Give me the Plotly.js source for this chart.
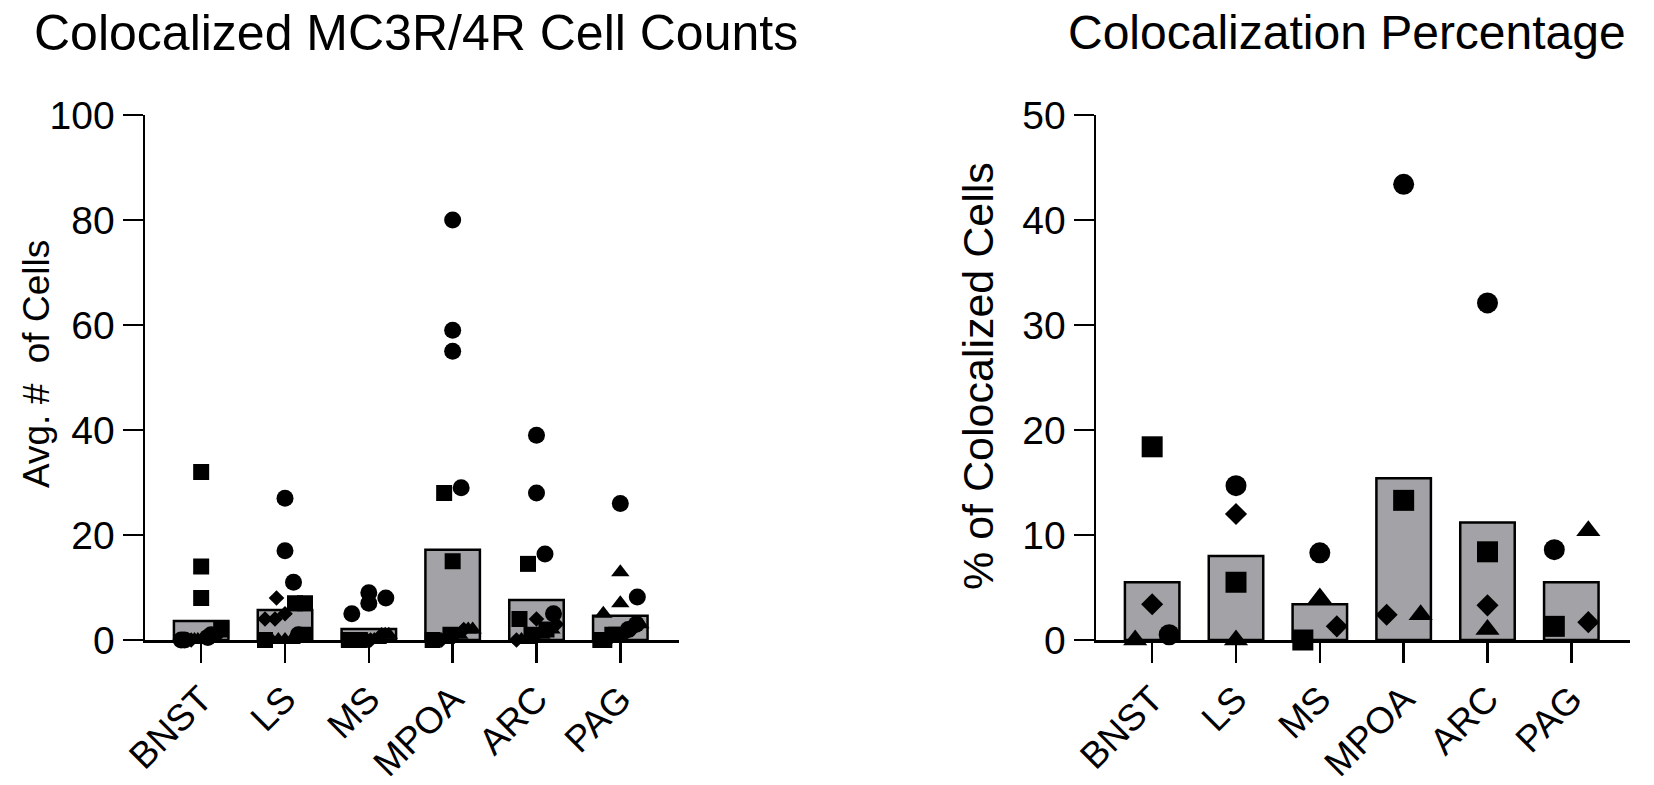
<!DOCTYPE html>
<html>
<head>
<meta charset="utf-8">
<script src="https://cdn.plot.ly/plotly-3.0.1.min.js"></script>
<style>
  html, body { margin: 0; padding: 0; background: #ffffff; }
  #chart { width: 1654px; height: 785px; }
</style>
</head>
<body>
<div id="chart"></div>
<script>
/* Colocalized MC3R/4R cells: counts (left) and percentage (right) per region.
 * Bars are group means, symbols are animals (circle / square / diamond / triangle). */

const regions = ['BNST', 'LS', 'MS', 'MPOA', 'ARC', 'PAG'];

// Left panel: avg # of colocalized cells, 4 sections per animal
const countMeans = [3.6, 5.7, 2.1, 17.2, 7.6, 4.6];
const countCircle   = [[1, 0.5, 0, 0], [27, 17, 11, 1], [9, 8, 7, 5], [80, 59, 55, 29], [39, 28, 16.4, 5], [26, 8.2, 3, 2]];
const countSquare   = [[32, 14, 8, 2], [7, 7, 1, 0], [0, 0, 0, 0], [28, 15, 1, 0], [14.5, 4, 2, 1], [1, 1, 0, 0]];
const countDiamond  = [[1, 1, 0, 0], [8, 5, 4, 4], [1, 0, 0, 0], [2, 1, 0, 0], [4, 3, 1, 0], [2, 1, 1, 0]];
const countTriangle = [[0, 0, 0, 0], [0, 0, 0, 0], [1, 1, 0, 0], [2, 2, 1, 0], [2, 1, 0, 0], [12.9, 7, 5, 3]];

// Right panel: % of colocalized cells, one value per animal
const pctMeans    = [5.5, 8.0, 3.4, 15.4, 11.2, 5.5];
const pctCircle   = [0.5, 14.7, 8.3, 43.4, 32.1, 8.6];
const pctSquare   = [18.4, 5.5, 0, 13.3, 8.4, 1.3];
const pctDiamond  = [3.4, 12.0, 1.3, 2.4, 3.3, 1.7];
const pctTriangle = [0, 0, 4.0, 2.4, 1.0, 10.4];

/* ── Geometry (px) ─────────────────────────────────────────────────────────── */

const W = 1654, H = 785;
const PLOT_TOP = 115, PLOT_BOTTOM = 640;
const LEFT_X0 = 145, RIGHT_X0 = 1096, PLOT_W = 534;
const X_RANGE = [-0.67, 5.70];
const BAR_WIDTH = 0.65;
const FONT = "'Liberation Sans', Arial, sans-serif";

const spacingPx = PLOT_W / (X_RANGE[1] - X_RANGE[0]);

/**
 * GraphPad-like horizontal spreading: points whose markers overlap vertically
 * are put in one row and centred on the column.
 */
function rowOffsets(points, pxPerUnit, markerPx, gapPx, maxSpreadPx) {
  const order = points.map((p, i) => i).sort((a, b) => points[a].v - points[b].v || a - b);
  const offsets = new Array(points.length).fill(0);
  let row = [];
  const flush = () => {
    const n = row.length;
    if (!n) return;
    let d = gapPx;
    if (n > 1 && (n - 1) * d > maxSpreadPx) d = maxSpreadPx / (n - 1);
    row.forEach((idx, k) => { offsets[idx] = (k - (n - 1) / 2) * d / spacingPx; });
    row = [];
  };
  order.forEach(idx => {
    if (row.length && (points[idx].v - points[row[0]].v) * pxPerUnit >= markerPx) flush();
    row.push(idx);
  });
  flush();
  return offsets;
}

function panelTraces(xa, ya, means, groups, yMax, markerPx, gapPx, maxSpreadPx) {
  const pxPerUnit = (PLOT_BOTTOM - PLOT_TOP) / yMax;
  const traces = [{
    type: 'bar',
    x: regions.map((r, i) => i),
    y: means,
    width: BAR_WIDTH,
    marker: { color: '#a3a3a7', line: { color: '#000000', width: 2.5 } },
    xaxis: xa, yaxis: ya,
    hoverinfo: 'skip',
  }];

  const xs = groups.map(() => []);
  const ys = groups.map(() => []);
  regions.forEach((r, i) => {
    const pts = [];
    groups.forEach((g, gi) => {
      [].concat(g.vals[i]).forEach(v => pts.push({ g: gi, v: v }));
    });
    const off = rowOffsets(pts, pxPerUnit, markerPx, gapPx, maxSpreadPx);
    pts.forEach((p, k) => { xs[p.g].push(i + off[k]); ys[p.g].push(p.v); });
  });

  groups.forEach((g, gi) => {
    traces.push({
      type: 'scatter',
      mode: 'markers',
      x: xs[gi],
      y: ys[gi],
      marker: { symbol: g.symbol, size: g.size, color: '#000000', line: { width: 0 } },
      cliponaxis: false,
      xaxis: xa, yaxis: ya,
      hoverinfo: 'y',
    });
  });
  return traces;
}

const traces = []
  .concat(panelTraces('x', 'y', countMeans, [
    { symbol: 'circle', size: 17, vals: countCircle },
    { symbol: 'square', size: 16, vals: countSquare },
    { symbol: 'diamond', size: 12, vals: countDiamond },
    { symbol: 'triangle-up', size: 16, vals: countTriangle },
  ], 100, 17, 17, 40))
  .concat(panelTraces('x2', 'y2', pctMeans, [
    { symbol: 'circle', size: 21, vals: pctCircle },
    { symbol: 'square', size: 21, vals: pctSquare },
    { symbol: 'diamond', size: 17, vals: pctDiamond },
    { symbol: 'triangle-up', size: 21, vals: pctTriangle },
  ], 50, 21, 34, 40));

/* ── Layout ────────────────────────────────────────────────────────────────── */

const yDomain = [(H - PLOT_BOTTOM) / H, (H - PLOT_TOP) / H];

function xAxis(x0, anchor) {
  return {
    domain: [x0 / W, (x0 + PLOT_W) / W],
    range: X_RANGE,
    tickvals: regions.map((r, i) => i),
    ticktext: regions,
    tickangle: -45,
    ticks: 'outside', ticklen: 20, tickwidth: 2.5, tickcolor: '#000000',
    showline: true, linewidth: 2.5, linecolor: '#000000',
    showgrid: false, zeroline: false, fixedrange: true,
    tickfont: { family: FONT, size: 37, color: '#000000' },
    anchor: anchor,
  };
}

function yAxis(max, dtick, anchor) {
  return {
    domain: yDomain,
    range: [0, max],
    tick0: 0, dtick: dtick,
    ticks: 'outside', ticklen: 20, tickwidth: 2.5, tickcolor: '#000000',
    showline: true, linewidth: 2.5, linecolor: '#000000',
    showgrid: false, zeroline: false, fixedrange: true,
    tickfont: { family: FONT, size: 39, color: '#000000' },
    anchor: anchor,
  };
}

const layout = {
  width: W, height: H,
  margin: { l: 0, r: 0, t: 0, b: 0 },
  paper_bgcolor: '#ffffff', plot_bgcolor: '#ffffff',
  showlegend: false,
  bargap: 0,
  xaxis: xAxis(LEFT_X0, 'y'),
  yaxis: yAxis(100, 20, 'x'),
  xaxis2: xAxis(RIGHT_X0, 'y2'),
  yaxis2: yAxis(50, 10, 'x2'),
  annotations: [
    { text: 'Colocalized MC3R/4R Cell Counts', xref: 'paper', yref: 'paper',
      x: 32 / W, y: (H - 33) / H, xanchor: 'left', yanchor: 'middle', showarrow: false,
      font: { family: FONT, size: 50, color: '#000000' } },
    { text: 'Colocalization Percentage', xref: 'paper', yref: 'paper',
      x: 1066 / W, y: (H - 33) / H, xanchor: 'left', yanchor: 'middle', showarrow: false,
      font: { family: FONT, size: 48, color: '#000000' } },
    { text: 'Avg. #\u00a0 of Cells', xref: 'paper', yref: 'paper', textangle: -90,
      x: 36 / W, y: (H - 364) / H, xanchor: 'center', yanchor: 'middle', showarrow: false,
      font: { family: FONT, size: 37, color: '#000000' } },
    { text: '% of Colocalized Cells', xref: 'paper', yref: 'paper', textangle: -90,
      x: 978 / W, y: (H - 376) / H, xanchor: 'center', yanchor: 'middle', showarrow: false,
      font: { family: FONT, size: 43, color: '#000000' } },
  ],
};

Plotly.newPlot('chart', traces, layout, { staticPlot: true, displayModeBar: false });
</script>
</body>
</html>
